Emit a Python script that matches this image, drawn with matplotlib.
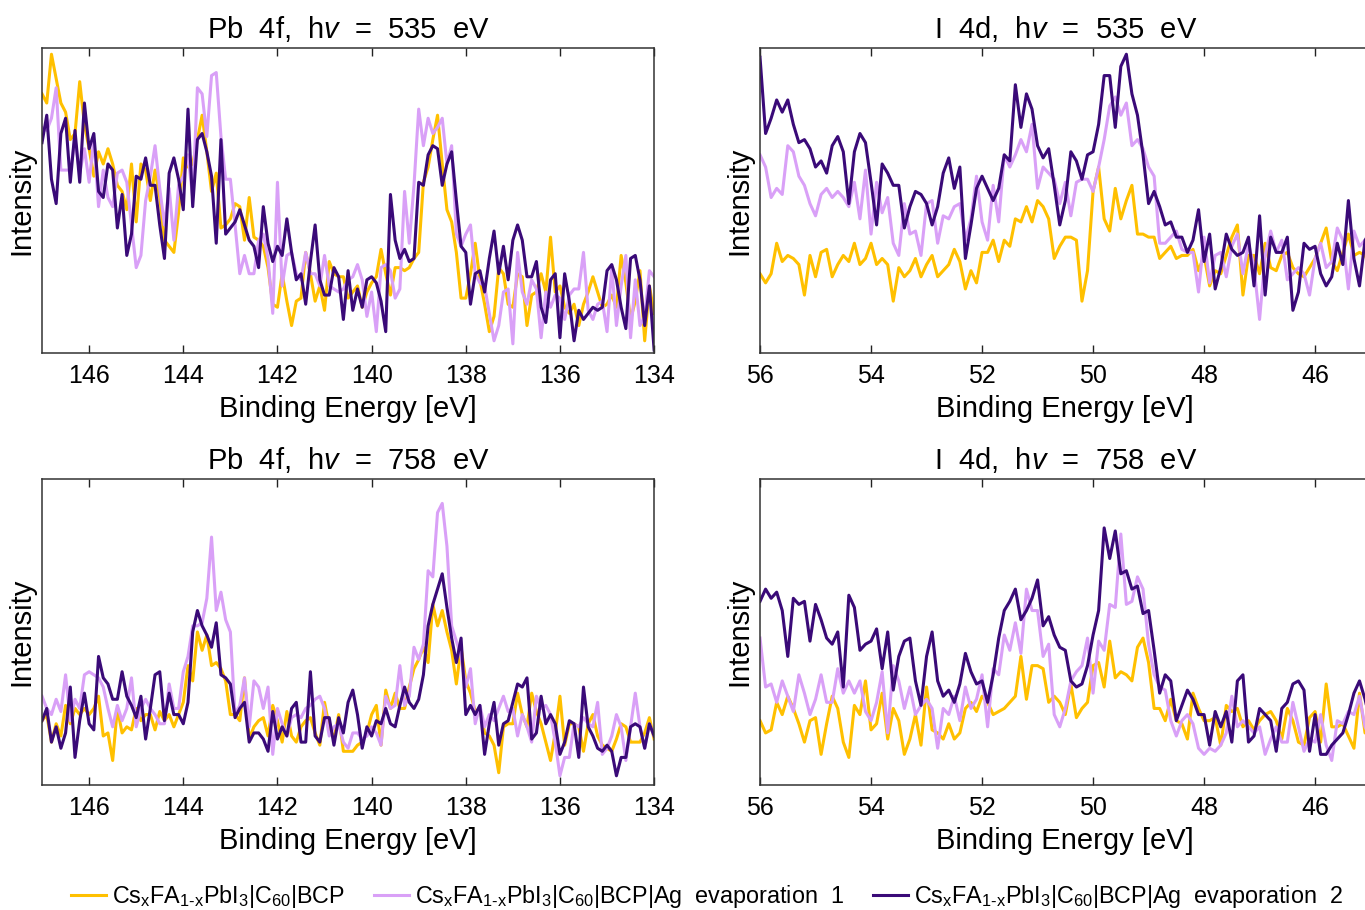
import numpy as np
import matplotlib
matplotlib.use('Agg')
import matplotlib.pyplot as plt

plt.rcParams['font.family'] = 'Liberation Sans'
plt.rcParams['mathtext.fontset'] = 'custom'
plt.rcParams['mathtext.rm'] = 'Liberation Sans'
plt.rcParams['mathtext.it'] = 'Liberation Sans:italic'

# Binding energy grids (0.1 eV steps)
energy_pb = np.round(np.arange(147.0, 133.95, -0.1), 1)
energy_i = np.round(np.arange(56.0, 44.95, -0.1), 1)

# Normalised intensities (arb. units, 0-100)
pb535_bcp = [85, 82, 98, 90, 82, 79, 70, 72, 89, 75, 67, 58, 66, 62, 67, 62, 55, 53, 47, 62,
             43, 62, 60, 50, 60, 51, 37, 35, 33, 46, 64, 61, 62, 70, 78, 66, 53, 59, 41, 42,
             44, 49, 48, 37, 51, 38, 37, 35, 28, 16, 15, 26, 17, 9, 17, 18, 33, 26, 17, 22,
             14, 30, 26, 25, 25, 18,
             20, 22, 15, 20, 23, 25, 34, 26, 19, 28, 28, 27, 28, 31, 33, 56, 61, 70, 78, 62,
             47, 43, 33, 18, 18, 26, 36, 24, 16, 7, 12, 28, 26, 16, 15, 26, 25, 9, 19, 20,
             26, 20, 38, 20, 22, 15, 13, 16, 9, 16, 20, 25, 20, 15, 16, 19, 15, 32, 23, 11,
             17, 27, 4, 22, 13]
pb535_ag1 = [74, 73, 77, 87, 60, 60, 60, 70, 59, 67, 56, 70, 48, 60, 51, 48, 59, 60, 56, 42,
             28, 32, 50, 58, 68, 54, 42, 54, 37, 55, 58, 65, 51, 87, 85, 71, 91, 92, 71, 57,
             57, 42, 26, 32, 26, 26, 37, 39, 31, 13, 56, 22, 32, 33, 26, 24, 33, 26, 26, 22,
             32, 22, 21, 20, 21, 24,
             25, 29, 24, 12, 20, 7, 28, 29, 27, 18, 21, 53, 36, 55, 80, 68, 77, 72, 74, 77,
             62, 68, 39, 35, 39, 42, 26, 23, 22, 13, 4, 9, 20, 21, 3, 33, 20, 16, 24, 21,
             5, 20, 15, 19, 18, 11, 19, 21, 21, 33, 14, 11, 16, 17, 7, 28, 9, 22, 32, 5,
             24, 9, 12, 27, 25]
pb535_ag2 = [69, 78, 57, 49, 72, 77, 56, 73, 56, 82, 67, 72, 53, 51, 62, 60, 41, 52, 32, 39,
             58, 57, 64, 55, 55, 42, 31, 59, 64, 57, 47, 80, 48, 70, 72, 66, 58, 36, 70, 39,
             41, 43, 47, 42, 37, 35, 28, 48, 36, 30, 35, 32, 44, 33, 24, 26, 16, 30, 42, 24,
             19, 19, 28, 25, 11, 27,
             14, 21, 15, 24, 25, 23, 17, 7, 52, 37, 31, 34, 30, 31, 56, 55, 65, 68, 67, 55,
             62, 66, 50, 35, 33, 16, 26, 27, 20, 31, 40, 26, 35, 24, 37, 42, 37, 25, 25, 30,
             15, 10, 24, 26, 5, 26, 17, 4, 14, 11, 13, 15, 14, 15, 27, 29, 24, 15, 8, 31,
             32, 24, 9, 22, 1]

i535_bcp = [26, 23, 26, 36, 30, 32, 31, 29, 19, 32, 25, 33, 34, 25, 29, 32, 30, 36, 29, 31,
            36, 29, 31, 29, 17, 28, 25, 27, 31, 25, 29, 32, 25, 27, 29, 34, 30, 21, 27, 23,
            33, 33, 37, 30, 37, 35, 44, 43, 48, 43, 50, 48, 44, 31, 35, 38,
            38, 37, 17, 27, 53, 61, 44, 40, 54, 44, 50, 55, 39, 39, 38, 38, 31, 33, 35, 31,
            32, 32, 34, 27, 32, 22, 27, 26, 32, 38, 42, 19, 32, 32, 26, 36, 28, 27, 32, 33,
            28, 26, 25, 28, 31, 36, 41, 30, 27, 33, 39, 32, 33, 32, 28]
i535_ag1 = [65, 61, 51, 54, 52, 68, 66, 58, 55, 49, 45, 52, 54, 51, 53, 51, 48, 56, 44, 60,
            39, 56, 46, 51, 36, 32, 49, 39, 40, 32, 49, 50, 36, 45, 44, 48, 49, 37, 44, 58,
            43, 37, 55, 43, 65, 61, 65, 70, 66, 75, 54, 61, 59, 57, 49, 56,
            45, 56, 57, 57, 53, 61, 70, 81, 84, 78, 82, 68, 70, 67, 61, 58, 36, 36, 38, 40,
            34, 33, 33, 20, 38, 23, 32, 33, 25, 35, 39, 26, 36, 28, 11, 32, 40, 33, 37, 24,
            26, 28, 26, 19, 31, 36, 28, 30, 41, 37, 21, 40, 35, 37, 37]
i535_ag2 = [97, 72, 77, 83, 79, 83, 75, 69, 70, 67, 61, 63, 59, 68, 71, 66, 49, 66, 72, 69,
            56, 42, 62, 59, 55, 55, 41, 48, 53, 52, 49, 42, 48, 59, 64, 54, 61, 31, 42, 54,
            58, 54, 50, 54, 65, 63, 88, 74, 85, 80, 68, 64, 67, 55, 42, 50,
            66, 63, 57, 65, 66, 75, 91, 91, 74, 94, 98, 85, 78, 65, 49, 53, 48, 42, 43, 38,
            38, 33, 37, 47, 30, 39, 21, 28, 39, 34, 32, 33, 38, 22, 45, 19, 38, 33, 33, 38,
            14, 20, 36, 34, 35, 26, 22, 25, 36, 29, 50, 31, 22, 37, 40]

pb758_bcp = [21, 23, 14, 20, 16, 26, 20, 25, 23, 25, 23, 25, 29, 16, 17, 8, 25, 17, 19, 18,
             25, 21, 23, 23, 18, 24, 21, 23, 19, 23, 27, 39, 34, 50, 44, 49, 39, 40, 38, 34,
             23, 23, 21, 35, 15, 19, 21, 22, 16, 26, 21, 14, 24, 16, 14, 19, 21, 22, 17, 13,
             27, 19, 15, 23, 11, 11,
             11, 13, 14, 17, 23, 26, 13, 31, 25, 30, 25, 25, 32, 38, 41, 45, 40, 59, 52, 57,
             50, 44, 33, 45, 34, 30, 24, 25, 17, 16, 13, 4, 19, 20, 20, 30, 23, 19, 30, 24,
             20, 14, 8, 17, 29, 13, 20, 20, 19, 11, 20, 23, 16, 13, 12, 11, 15, 20, 19, 14,
             14, 14, 17, 22, 15]
pb758_ag1 = [29, 25, 23, 28, 24, 36, 21, 28, 25, 36, 37, 36, 35, 32, 25, 19, 26, 21, 25, 35,
             19, 25, 28, 25, 23, 20, 20, 33, 25, 25, 37, 42, 52, 52, 53, 61, 81, 57, 63, 54,
             50, 23, 26, 35, 19, 34, 32, 25, 32, 10, 25, 20, 16, 22, 23, 22, 25, 26, 28, 29,
             25, 16, 19, 20, 14, 12,
             17, 17, 15, 16, 19, 17, 13, 29, 25, 26, 39, 26, 29, 45, 41, 46, 70, 68, 89, 92,
             78, 52, 47, 42, 32, 38, 20, 26, 19, 23, 21, 25, 29, 24, 25, 16, 23, 19, 14, 29,
             25, 26, 23, 14, 3, 9, 9, 20, 19, 22, 20, 19, 27, 10, 12, 16, 23, 19, 8, 19,
             30, 19, 12, 20, 16]
pb758_ag2 = [21, 25, 14, 19, 12, 17, 32, 9, 21, 30, 20, 18, 42, 35, 33, 28, 28, 37, 29, 26,
             22, 29, 15, 25, 36, 37, 21, 30, 23, 23, 20, 27, 50, 57, 52, 49, 45, 53, 36, 35,
             33, 22, 25, 27, 14, 17, 17, 15, 11, 24, 15, 19, 16, 25, 27, 14, 14, 37, 16, 14,
             22, 22, 13, 22, 17, 27,
             31, 23, 12, 19, 16, 21, 20, 25, 20, 19, 26, 32, 27, 25, 28, 36, 52, 59, 64, 69,
             58, 48, 40, 48, 23, 26, 23, 26, 10, 20, 27, 13, 20, 21, 27, 33, 32, 35, 15, 17,
             29, 20, 23, 20, 10, 14, 21, 20, 9, 32, 19, 16, 12, 11, 13, 11, 3, 9, 9, 19,
             20, 19, 12, 20, 16]

i758_bcp = [21, 17, 18, 27, 23, 29, 25, 20, 14, 21, 22, 10, 20, 29, 25, 14, 9, 26, 23, 34,
            18, 20, 30, 15, 25, 21, 10, 15, 23, 13, 32, 18, 17, 15, 20, 15, 17, 25, 27, 24,
            29, 27, 23, 24, 25, 27, 29, 42, 28, 39, 39, 38, 27, 29, 27, 23,
            33, 22, 25, 27, 39, 40, 32, 47, 35, 37, 36, 34, 45, 48, 40, 25, 25, 21, 28, 21,
            20, 15, 30, 25, 21, 21, 22, 13, 26, 24, 25, 19, 21, 18, 21, 23, 24, 21, 15, 25,
            21, 14, 13, 22, 24, 14, 33, 19, 19, 20, 16, 12, 30, 17, 18]
i758_ag1 = [48, 32, 33, 27, 34, 29, 24, 36, 30, 23, 28, 36, 27, 27, 38, 30, 34, 30, 34, 24,
            21, 27, 37, 17, 39, 34, 25, 32, 23, 26, 28, 25, 12, 25, 23, 29, 21, 32, 25, 28,
            36, 19, 38, 36, 49, 44, 53, 43, 64, 57, 57, 42, 46, 23, 19, 25,
            34, 37, 39, 48, 30, 47, 44, 59, 58, 82, 59, 60, 68, 64, 46, 36, 32, 31, 21, 16,
            21, 23, 20, 12, 10, 12, 11, 13, 17, 29, 19, 21, 19, 17, 19, 10, 15, 19, 14, 14,
            27, 19, 11, 15, 14, 23, 13, 8, 21, 20, 24, 23, 29, 19, 15]
i758_ag2 = [60, 64, 61, 63, 57, 42, 61, 59, 60, 47, 59, 54, 48, 46, 50, 32, 62, 58, 44, 46,
            47, 51, 38, 50, 31, 42, 47, 48, 34, 26, 42, 50, 34, 29, 31, 27, 33, 43, 37, 33,
            34, 27, 36, 48, 57, 60, 64, 54, 57, 61, 67, 52, 55, 49, 45, 44,
            34, 32, 33, 39, 49, 57, 84, 74, 83, 69, 70, 64, 65, 56, 57, 44, 30, 36, 34, 21,
            26, 31, 28, 23, 23, 13, 24, 19, 24, 14, 34, 36, 14, 16, 25, 23, 21, 11, 25, 27,
            33, 34, 31, 11, 23, 10, 10, 13, 15, 17, 23, 30, 34, 28, 20]

sample = r'Cs$_\mathregular{x}$FA$_\mathregular{1' + '\u2010' + r'x}$PbI$_\mathregular{3}$|C$_\mathregular{60}$|BCP'
labels = [sample, sample + '|Ag  evaporation  1', sample + '|Ag  evaporation  2']
colors = ['#FFC000', '#D9A0F7', '#3A0A78']

panels = [
    ('Pb  4f,  h$\\mathit{v}$  =  535  eV', energy_pb, (147, 134), [146, 144, 142, 140, 138, 136, 134],
     [pb535_bcp, pb535_ag1, pb535_ag2], [0.0308, 0.6121, 0.4484, 0.335]),
    ('I  4d,  h$\\mathit{v}$  =  535  eV', energy_i, (56, 45), [56, 54, 52, 50, 48, 46],
     [i535_bcp, i535_ag1, i535_ag2], [0.5568, 0.6121, 0.4473, 0.335]),
    ('Pb  4f,  h$\\mathit{v}$  =  758  eV', energy_pb, (147, 134), [146, 144, 142, 140, 138, 136, 134],
     [pb758_bcp, pb758_ag1, pb758_ag2], [0.0308, 0.1374, 0.4484, 0.3363]),
    ('I  4d,  h$\\mathit{v}$  =  758  eV', energy_i, (56, 45), [56, 54, 52, 50, 48, 46],
     [i758_bcp, i758_ag1, i758_ag2], [0.5568, 0.1374, 0.4473, 0.3363]),
]

fig = plt.figure(figsize=(13.65, 9.1), dpi=100)

for title, energy, xlim, xticks, series, pos in panels:
    ax = fig.add_axes(pos)
    for y, c, lab in zip(series, colors, labels):
        ax.plot(energy, y, color=c, lw=2.2, label=lab)
    ax.set_xlim(*xlim)
    ax.set_ylim(0, 100)
    ax.set_xticks(xticks)
    ax.set_yticks([])
    ax.tick_params(axis='x', direction='in', top=True, bottom=True, length=6, width=1,
                   labelsize=18, pad=8, colors='#222222', labelcolor='black')
    for sp in ax.spines.values():
        sp.set_color('#333333')
        sp.set_linewidth(1.1)
    ax.set_title(title, fontsize=21, pad=7)
    ax.set_xlabel('Binding Energy [eV]', fontsize=21, labelpad=5)
    ax.set_ylabel('Intensity', fontsize=21, labelpad=5)

handles, _ = ax.get_legend_handles_labels()
fig.legend(handles, labels, loc='center', bbox_to_anchor=(0.518, 1 - 897 / 910), ncol=3,
           frameon=False, fontsize=16.8, handlelength=1.5, handletextpad=0.25, columnspacing=1.25)

fig.savefig('out.png', dpi=100)
